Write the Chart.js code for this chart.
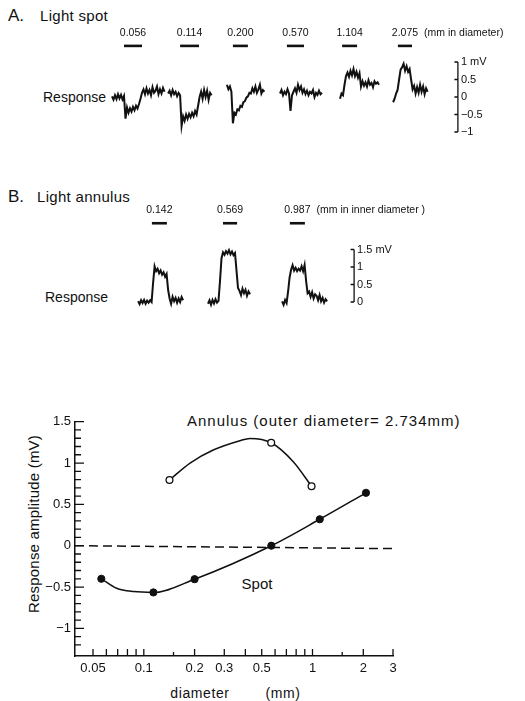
<!DOCTYPE html>
<html>
<head>
<meta charset="utf-8">
<script src="https://cdn.jsdelivr.net/npm/chart.js@4.4.1/dist/chart.umd.min.js"></script>
<style>
  html, body { margin: 0; padding: 0; background: #fff; }
  body { width: 525px; height: 701px; position: relative; overflow: hidden;
         font-family: "Liberation Sans", Arial, sans-serif; color: #111; }
  .box { position: absolute; }
  .t { position: absolute; white-space: nowrap; line-height: 1; transform: translate(-50%, -50%); }
  .l { position: absolute; white-space: nowrap; line-height: 1; transform: translateY(-50%); }
</style>
</head>
<body>
<div class="l" style="left:8px;top:15px;font-size:17px;">A.</div>
<div class="l" style="left:40px;top:15px;font-size:15px;letter-spacing:0.3px;">Light spot</div>
<div class="l" style="left:43px;top:97px;font-size:14px;">Response</div>
<div class="l" style="left:8px;top:196px;font-size:17px;">B.</div>
<div class="l" style="left:37px;top:196px;font-size:15px;letter-spacing:0.3px;">Light annulus</div>
<div class="l" style="left:45px;top:297px;font-size:14px;">Response</div>
<div class="l" style="left:187px;top:420px;font-size:15px;letter-spacing:1px;">Annulus (outer diameter= 2.734mm)</div>
<div class="t" style="left:257px;top:583px;font-size:15px;">Spot</div>
<div class="t" style="left:33px;top:524px;font-size:15px;letter-spacing:0.2px;transform:translate(-50%,-50%) rotate(-90deg);">Response amplitude (mV)</div>
<div class="t" style="left:200px;top:693px;font-size:14px;letter-spacing:0.6px;">diameter</div>
<div class="t" style="left:283px;top:693px;font-size:14px;letter-spacing:0.6px;">(mm)</div>

<div class="box" style="left:100px;top:18px;width:425px;height:123px;"><canvas id="chart-spot"></canvas></div>
<div class="box" style="left:100px;top:200px;width:425px;height:120px;"><canvas id="chart-annulus"></canvas></div>
<div class="box" style="left:0px;top:400px;width:525px;height:301px;"><canvas id="chart-amp"></canvas></div>

<script>
const ink = '#111';
const dt = 0.05; // s between samples of the recorded traces

// ---- A. light spot: recorded responses (mV) ----
const spotLabels = ['0.056', '0.114', '0.200', '0.570', '1.104', '2.075'];
const spotStart = [0.4, 2.27, 4.23, 6.0, 8.0, 9.77];
const spotStimOn = [0.8, 2.67, 4.43, 6.23, 8.07, 9.93];
const spotStimOff = [1.4, 3.3, 4.93, 6.8, 8.57, 10.4];
const spotTraces = [
  [0.02, -0.08, 0.05, -0.06, 0.08, -0.04, 0.06, -0.07, 0.03, -0.62,
   -0.3, -0.45, -0.32, -0.42, -0.28, -0.38, -0.25, -0.33, -0.2, -0.05, 0.12,
   0.22, 0.08, 0.25, 0.1, 0.2, 0.05, 0.28, 0.12, 0.18, 0.3, 0.08, 0.22, 0.1, 0.26, 0.15],
  [0.1, 0.18, 0.05, 0.2, 0.08, 0.15, 0.02, 0.12, 0.05, -0.82,
   -0.55, -0.68, -0.5, -0.62, -0.48, -0.58, -0.45, -0.55, -0.4, -0.5, -0.25, 0.0,
   0.15, -0.05, 0.2, 0.0, 0.18, -0.08, 0.12, 0.05],
  [0.35, 0.22, 0.3, 0.15, -0.75,
   -0.45, -0.5, -0.35, -0.38, -0.25, -0.28, -0.15, -0.12, -0.02, 0.02, 0.12, 0.1,
   0.25, 0.15, 0.3, 0.12, 0.22, 0.35, 0.1, 0.2, 0.15],
  [0.1, 0.2, 0.05, 0.15, 0.08, 0.22, 0.1, -0.4, 0.05, 0.15, 0.25, 0.12, 0.35, 0.2, 0.3,
   0.12, 0.22, 0.08, 0.18, 0.05, 0.15, 0.1, 0.2, 0.0, 0.12, 0.06, 0.18, 0.08, 0.12],
  [-0.05, 0.1, 0.05, 0.35, 0.6,
   0.7, 0.58, 0.75, 0.62, 0.8, 0.6, 0.72, 0.55, 0.68, 0.3,
   0.45, 0.32, 0.42, 0.3, 0.48, 0.35, 0.4, 0.28, 0.45, 0.38, 0.42, 0.35],
  [-0.15, -0.05, 0.1, 0.2, 0.5, 0.78,
   0.85, 0.95, 0.75, 0.88, 0.72, 0.8, 0.5, 0.22,
   0.32, 0.1, 0.28, 0.12, 0.35, 0.15, 0.3, 0.08, 0.25, 0.15]
];
const spotBarTicks = [-1, -0.5, 0, 0.5, 1];
const spotBarText = ['\u22121', '\u22120.5', '0', '0.5', '1 mV'];

// ---- B. light annulus: recorded responses (mV) ----
const annLabels = ['0.142', '0.569', '0.987'];
const annStart = [1.27, 3.6, 6.07];
const annStimOn = [1.73, 4.1, 6.33];
const annStimOff = [2.23, 4.57, 6.83];
const annTraces = [
  [0.02, -0.06, 0.05, -0.03, 0.06, -0.05, 0.04, -0.02, 0.05, 0.0, 0.55,
   1.02, 0.88, 0.95, 0.82, 0.9, 0.78, 0.85, 0.72, 0.8, 0.35,
   0.1, -0.05, 0.15, 0.02, 0.12, -0.02, 0.1, 0.0, 0.14, 0.05],
  [-0.05, 0.05, -0.08, 0.06, -0.04, 0.08, -0.02, 0.03, 0.6, 1.25,
   1.42, 1.35, 1.45, 1.38, 1.48, 1.36, 1.44, 1.34, 1.4, 0.9, 0.4,
   0.32, 0.2, 0.38, 0.25, 0.35, 0.18, 0.3, 0.22],
  [0.02, -0.08, 0.06, -0.03, 0.3, 0.7, 0.92,
   1.05, 0.9, 0.98, 0.88, 0.95, 0.9, 1.02, 0.88, 1.06, 0.6, 0.25,
   0.3, 0.15, 0.28, 0.1, 0.22, 0.18, 0.05, 0.2, 0.02, 0.12, -0.02, 0.08, 0.02]
];
const annBarTicks = [0, 0.5, 1, 1.5];
const annBarText = ['0', '0.5', '1', '1.5 mV'];

// ---- amplitude vs diameter ----
const spotDiam = [0.056, 0.114, 0.2, 0.57, 1.104, 2.075];
const spotAmp = [-0.4, -0.565, -0.405, 0.0, 0.32, 0.64];
const annDiam = [0.142, 0.569, 0.987];
const annAmp = [0.795, 1.245, 0.72];
// hand-drawn fitted curves
const spotCurveX = [0.056, 0.069, 0.087, 0.114, 0.2, 0.57, 1.104, 2.075];
const spotCurveY = [-0.4, -0.515, -0.555, -0.565, -0.405, 0.0, 0.32, 0.64];
const annCurveX = [0.142, 0.188, 0.258, 0.371, 0.426, 0.569, 0.769, 0.987];
const annCurveY = [0.795, 1.0, 1.157, 1.27, 1.298, 1.245, 1.016, 0.72];
const zeroX = [0.0391, 3];
const zeroY = [0, -0.035];

const xLabelVals = [0.05, 0.1, 0.2, 0.3, 0.5, 1, 2, 3];
const xLabelText = ['0.05', '0.1', '0.2', '0.3', '0.5', '1', '2', '3'];
const xMarks = [0.05, 0.06, 0.07, 0.08, 0.09, 0.1, 0.15, 0.2, 0.3, 0.4, 0.5, 0.6, 0.7, 0.8, 0.9, 1, 1.5, 2, 3];
const xShortMarks = [0.15, 1.5];
const yLabelVals = [-1, -0.5, 0, 0.5, 1, 1.5];
const yLabelText = ['\u22121', '\u22120.5', '0', '0.5', '1', '1.5'];
const yMinorMarks = [-1.2, -1.1, -0.9, -0.8, -0.7, -0.6, -0.4, -0.3, -0.2, -0.1,
                     0.1, 0.2, 0.3, 0.4, 0.6, 0.7, 0.8, 0.9, 1.1, 1.2, 1.3, 1.4];

const pts = (xs, ys) => xs.map((x, i) => ({ x, y: ys[i] }));

// stimulus labels + calibration bar for the trace panels
const decorPlugin = {
  id: 'decor',
  afterDatasetsDraw(chart, args, o) {
    const { ctx, scales: { x, y } } = chart;
    ctx.save();
    ctx.fillStyle = ink; ctx.strokeStyle = ink;
    ctx.font = '10.5px "Liberation Sans", Arial, sans-serif';
    ctx.textBaseline = 'middle';
    ctx.textAlign = 'center';
    const ly = y.getPixelForValue(o.stimLevel) - 13;
    let lastRight = 0;
    o.labels.forEach((txt, i) => {
      const cx = x.getPixelForValue((o.on[i] + o.off[i]) / 2);
      ctx.fillText(txt, cx, ly);
      lastRight = cx + ctx.measureText(txt).width / 2;
    });
    ctx.textAlign = 'left';
    ctx.fillText(o.unit, lastRight + 6, ly);

    const bx = x.getPixelForValue(o.barAt);
    const t = o.barTicks;
    ctx.lineWidth = 1.3;
    ctx.beginPath();
    ctx.moveTo(bx, y.getPixelForValue(t[0]));
    ctx.lineTo(bx, y.getPixelForValue(t[t.length - 1]));
    t.forEach(v => {
      const py = y.getPixelForValue(v);
      ctx.moveTo(bx - 3.5, py); ctx.lineTo(bx, py);
    });
    ctx.stroke();
    ctx.font = '11px "Liberation Sans", Arial, sans-serif';
    t.forEach((v, i) => ctx.fillText(o.barText[i], bx + 3, y.getPixelForValue(v)));
    ctx.restore();
  }
};

function tracePanel(id, starts, traces, on, off, stimLevel, yMin, yMax, decor) {
  const datasets = traces.map((vals, k) => ({
    data: vals.map((v, i) => ({ x: starts[k] + i * dt, y: v })),
    borderColor: ink, borderWidth: 2, pointRadius: 0, tension: 0
  }));
  on.forEach((s, k) => datasets.push({
    data: [{ x: s, y: stimLevel }, { x: off[k], y: stimLevel }],
    borderColor: ink, borderWidth: 2.6, pointRadius: 0, borderCapStyle: 'butt'
  }));
  return new Chart(document.getElementById(id), {
    type: 'line',
    data: { datasets },
    options: {
      responsive: true, maintainAspectRatio: false, animation: false,
      layout: { padding: 0 },
      scales: {
        x: { type: 'linear', display: false, min: 0, max: 425 / 30 },
        y: { type: 'linear', display: false, min: yMin, max: yMax }
      },
      plugins: { legend: { display: false }, tooltip: { enabled: false }, decor: Object.assign({ on, off, stimLevel }, decor) }
    },
    plugins: [decorPlugin]
  });
}

tracePanel('chart-spot', spotStart, spotTraces, spotStimOn, spotStimOff, 1.46, -44 / 35, 79 / 35,
  { labels: spotLabels, unit: '(mm in diameter)', barAt: 11.93, barTicks: spotBarTicks, barText: spotBarText });
tracePanel('chart-annulus', annStart, annTraces, annStimOn, annStimOff, 2.25, -18 / 35, 102 / 35,
  { labels: annLabels, unit: '(mm in inner diameter )', barAt: 8.47, barTicks: annBarTicks, barText: annBarText });

// inward tick marks on the amplitude plot
const inwardTicks = {
  id: 'inwardTicks',
  afterDraw(chart) {
    const { ctx, chartArea: a, scales: { x, y } } = chart;
    ctx.save();
    ctx.strokeStyle = ink; ctx.lineWidth = 1.3;
    ctx.beginPath();
    xMarks.forEach(v => {
      const px = x.getPixelForValue(v);
      const len = xShortMarks.includes(v) ? 4 : 7;
      ctx.moveTo(px, a.bottom); ctx.lineTo(px, a.bottom - len);
    });
    yLabelVals.forEach(v => {
      const py = y.getPixelForValue(v);
      ctx.moveTo(a.left, py); ctx.lineTo(a.left + 9, py);
    });
    yMinorMarks.forEach(v => {
      const py = y.getPixelForValue(v);
      ctx.moveTo(a.left, py); ctx.lineTo(a.left + 6, py);
    });
    ctx.stroke();
    ctx.restore();
  }
};

new Chart(document.getElementById('chart-amp'), {
  type: 'line',
  data: {
    datasets: [
      { data: pts(spotDiam, spotAmp), showLine: false, pointRadius: 3.6,
        pointBackgroundColor: ink, pointBorderColor: ink, pointBorderWidth: 1 },
      { data: pts(annDiam, annAmp), showLine: false, pointRadius: 3.4,
        pointBackgroundColor: '#fff', pointBorderColor: ink, pointBorderWidth: 1.3 },
      { data: pts(spotCurveX, spotCurveY), borderColor: ink, borderWidth: 1.5, pointRadius: 0,
        cubicInterpolationMode: 'monotone' },
      { data: pts(annCurveX, annCurveY), borderColor: ink, borderWidth: 1.5, pointRadius: 0,
        cubicInterpolationMode: 'monotone' },
      { data: pts(zeroX, zeroY), borderColor: ink, borderWidth: 1.5, pointRadius: 0,
        borderDash: [9, 5] }
    ]
  },
  options: {
    responsive: true, maintainAspectRatio: false, animation: false,
    layout: { padding: { left: 35, right: 132, top: 21.7, bottom: 15 } },
    scales: {
      x: {
        type: 'logarithmic', min: 0.0391, max: 3,
        afterBuildTicks: s => { s.ticks = xLabelVals.map(v => ({ value: v })); },
        afterFit: s => { s.height = 30; },
        grid: { display: false, drawTicks: false },
        border: { display: true, color: ink, width: 1.5 },
        ticks: { autoSkip: false, maxRotation: 0, padding: 5, color: ink,
                 font: { family: 'Liberation Sans', size: 13 },
                 callback: (v, i) => xLabelText[i] }
      },
      y: {
        type: 'linear', min: -1.334, max: 1.5,
        afterBuildTicks: s => { s.ticks = yLabelVals.map(v => ({ value: v })); },
        afterFit: s => { s.width = 40; },
        grid: { display: false, drawTicks: false },
        border: { display: true, color: ink, width: 1.5 },
        ticks: { padding: 4, color: ink, font: { family: 'Liberation Sans', size: 13 },
                 callback: (v, i) => yLabelText[i] }
      }
    },
    plugins: { legend: { display: false }, tooltip: { enabled: false } }
  },
  plugins: [inwardTicks]
});
</script>
</body>
</html>
